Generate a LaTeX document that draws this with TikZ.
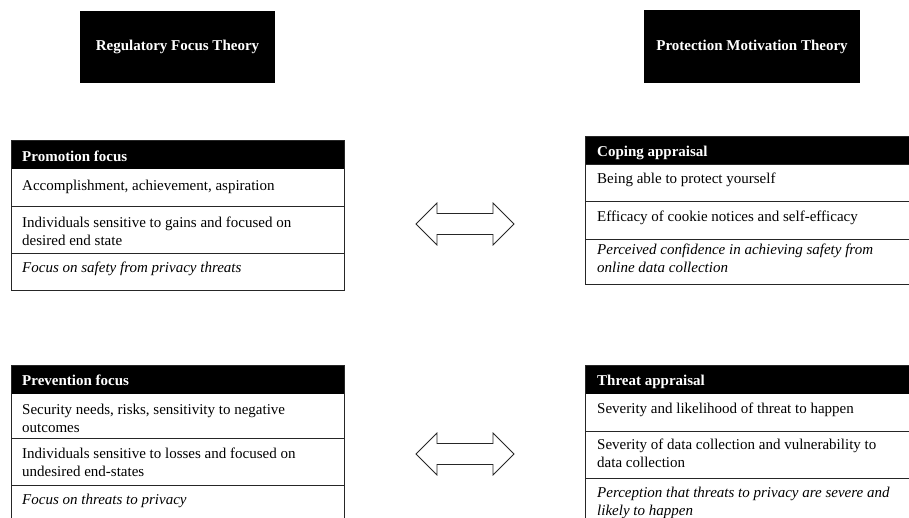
\documentclass[tikz,border=0pt]{standalone}
\usepackage{fontspec}
\setmainfont{Liberation Serif}
\newcommand\twolines[2]{\vtop{\hbox{\strut#1}\hbox{\strut#2}}}
\begin{document}
\begin{tikzpicture}[x=1pt,y=-1pt,
  every node/.style={font=\fontsize{15}{18}\selectfont, inner sep=0pt},
  tline/.style={draw=black!85, line width=0.8pt},
  titlebox/.style={fill=black, text=white, font=\fontsize{15}{18}\selectfont\bfseries},
  hdrtext/.style={anchor=base west, text=white, font=\fontsize{15}{18}\selectfont\bfseries},
  celltext/.style={anchor=base west},
  celltextit/.style={anchor=base west, font=\fontsize{15}{18}\selectfont\itshape},
  arrowshape/.style={draw=black!85, line width=0.8pt, line join=miter, fill=white}
]
\clip (0,0) rectangle (909,517);

% titles
\node[titlebox, minimum width=195, minimum height=72] (rft) at (177.5,47) {Regulatory Focus Theory};
\node[titlebox, minimum width=216, minimum height=73] (pmt) at (752,46.5) {Protection Motivation Theory};

% ---------- left top table ----------
\fill (11,140) rectangle (344,169);
\draw[tline] (11,140) rectangle (344,290);
\draw[tline] (11,206) -- (344,206);
\draw[tline] (11,253) -- (344,253);
\node[hdrtext] (proh) at (22,161) {Promotion focus};
\node[celltext] (pro1) at (22,190) {Accomplishment, achievement, aspiration};
\node[celltext] (pro2) at (22,227) {\twolines{Individuals sensitive to gains and focused on}{desired end state}};
\node[celltextit] (pro3) at (22,272) {Focus on safety from privacy threats};

% ---------- right top table ----------
\fill (585,136) rectangle (920,164);
\draw[tline] (920,136) -- (585,136) -- (585,284) -- (920,284);
\draw[tline] (585,164) -- (920,164);
\draw[tline] (585,201) -- (920,201);
\draw[tline] (585,239) -- (920,239);
\node[hdrtext] (copt) at (597,156) {Coping appraisal};
\node[celltext] (cop1) at (597,183) {Being able to protect yourself};
\node[celltext] (cop2) at (597,221) {Efficacy of cookie notices and self-efficacy};
\node[celltextit] (cop3) at (597,254) {\twolines{Perceived confidence in achieving safety from}{online data collection}};

% ---------- left bottom table ----------
\fill (11,365) rectangle (344,394);
\draw[tline] (11,530) -- (11,365) -- (344,365) -- (344,530);
\draw[tline] (11,438) -- (344,438);
\draw[tline] (11,485) -- (344,485);
\node[hdrtext] (prvh) at (22,385) {Prevention focus};
\node[celltext] (prv1) at (22,414) {\twolines{Security needs, risks, sensitivity to negative}{outcomes}};
\node[celltext] (prv2) at (22,458) {\twolines{Individuals sensitive to losses and focused on}{undesired end-states}};
\node[celltextit] (prv3) at (22,504) {Focus on threats to privacy};

% ---------- right bottom table ----------
\fill (585,365) rectangle (920,394);
\draw[tline] (585,530) -- (585,365) -- (920,365);
\draw[tline] (585,431) -- (920,431);
\draw[tline] (585,478) -- (920,478);
\node[hdrtext] (thrh) at (597,385) {Threat appraisal};
\node[celltext] (thr1) at (597,413) {Severity and likelihood of threat to happen};
\node[celltext] (thr2) at (597,449) {\twolines{Severity of data collection and vulnerability to}{data collection}};
\node[celltextit] (thr3) at (597,497) {\twolines{Perception that threats to privacy are severe and}{likely to happen}};

% ---------- double arrows ----------
\draw[arrowshape] (416,224) -- (437,203) -- (437,213.5) -- (493,213.5) -- (493,203) -- (514,224)
  -- (493,245) -- (493,234.5) -- (437,234.5) -- (437,245) -- cycle;
\draw[arrowshape] (416,454) -- (437,433) -- (437,443.5) -- (493,443.5) -- (493,433) -- (514,454)
  -- (493,475) -- (493,464.5) -- (437,464.5) -- (437,475) -- cycle;
\end{tikzpicture}
\end{document}
